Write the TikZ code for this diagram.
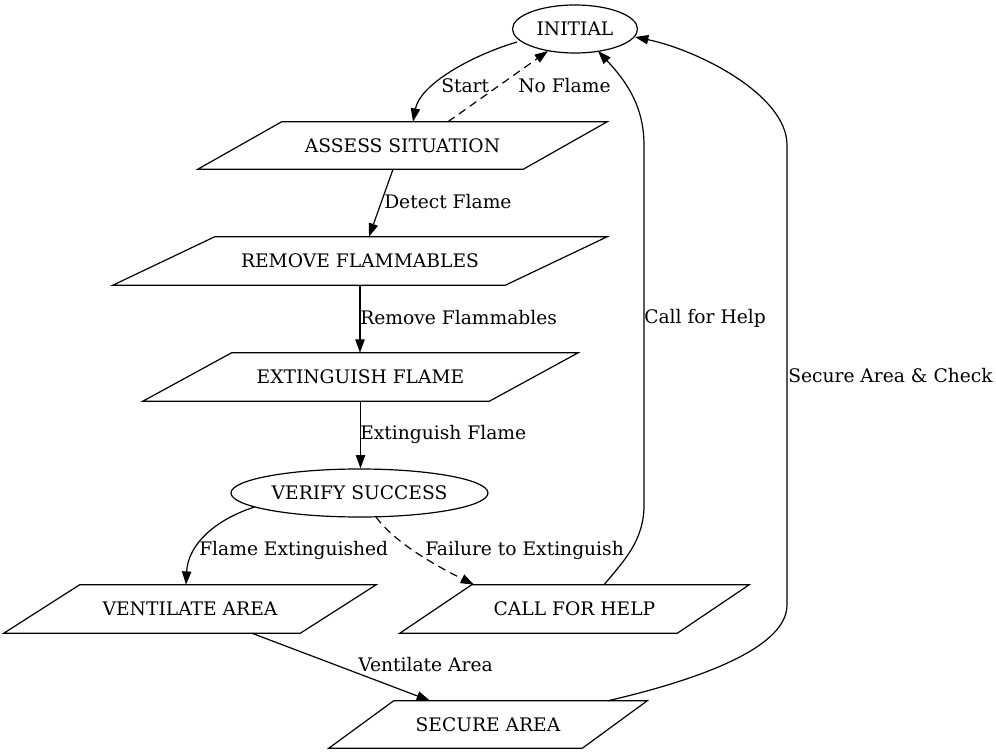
\documentclass[tikz,border=0pt]{standalone}
\usepackage{fontspec}
\setmainfont{DejaVu Serif}
\usetikzlibrary{arrows.meta,shapes.geometric}
\begin{document}
\begin{tikzpicture}[x=0.75pt,y=-0.75pt,
  font=\fontsize{14pt}{16pt}\selectfont,
  line/.style={line width=0.9pt},
  arr/.style={line, -{Triangle[length=10pt,width=7pt]}},
  dsh/.style={dash pattern=on 6pt off 4pt},
  oval/.style={ellipse, draw, line width=0.9pt, inner sep=0pt, minimum height=36pt},
  para/.style={rectangle, inner sep=0pt},
  lbl/.style={anchor=west, inner sep=0pt}]
\useasboundingbox (0,0) rectangle (996,755);

% nodes
\node[oval, minimum width=93.75pt] (initial) at (575,29) {INITIAL};
\node[para, minimum width=243.75pt, minimum height=35.25pt] (assess) at (402.5,145.5) {ASSESS SITUATION};
\node[para, minimum width=294pt, minimum height=36pt] (remove) at (360,261) {REMOVE FLAMMABLES};
\node[para, minimum width=259.5pt, minimum height=36pt] (extinguish) at (360.5,377) {EXTINGUISH FLAME};
\node[oval, minimum width=192.75pt] (verify) at (359.5,493) {VERIFY SUCCESS};
\node[para, minimum width=222pt, minimum height=36pt] (ventilate) at (190,609) {VENTILATE AREA};
\node[para, minimum width=207.75pt, minimum height=36pt] (call) at (574.5,609) {CALL FOR HELP};
\node[para, minimum width=189.75pt, minimum height=35.25pt] (secure) at (488,724.5) {SECURE AREA};

% parallelogram outlines
\foreach \n/\h in {assess/31.5, remove/38.25, extinguish/33.375, ventilate/28.5, call/27, secure/24.375}
  \draw[line] ([xshift=-\h pt]\n.south west) -- ([xshift=-\h pt]\n.south east)
    -- ([xshift=\h pt]\n.north east) -- ([xshift=\h pt]\n.north west) -- cycle;

% waypoints
\coordinate (cA) at (644,505);
\coordinate (cB) at (644,145);
\coordinate (sA) at (787,605);
\coordinate (sB) at (787,145);

% edges
\draw[arr] ([shift={(-58,13)}]initial.center) .. controls +(-47,14) and +(7,-37) .. ([shift={(10.5,0)}]assess.north);
\draw[arr, dsh] ([shift={(45.5,0)}]assess.north) -- ([shift={(-27,22)}]initial.center);
\draw[arr] ([shift={(-9.5,0)}]assess.south) -- ([shift={(9,0)}]remove.north);
\draw[arr] (remove.south) -- (remove.south |- extinguish.north);
\draw[arr] (extinguish.south) -- (extinguish.south |- verify.north);
\draw[arr] ([shift={(-105,14)}]verify.center) .. controls +(-40,13) and +(2,-40) .. ([shift={(-4,0)}]ventilate.north);
\draw[arr, dsh] ([shift={(16.5,24)}]verify.center) .. controls +(18,25) and +(-40,-20) .. ([shift={(-100.5,0)}]call.north);
\draw[arr] ([shift={(29.5,0)}]call.north) .. controls +(21,-25) and +(0,35) .. (cA) -- (cB)
  .. controls +(0,-40) and +(27,29) .. ([shift={(23,22)}]initial.center);
\draw[arr] ([shift={(62,0)}]ventilate.south) -- ([shift={(-58,0)}]secure.north);
\draw[arr] ([shift={(120,0)}]secure.north) .. controls +(82,-19) and +(0,45) .. (sA) -- (sB)
  .. controls +(0,-50) and +(63,13) .. ([shift={(60,8)}]initial.center);

% labels
\node[lbl] (lStart) at (441,86) {Start};
\node[lbl] (lNo) at (518,86) {No Flame};
\node[lbl] (lDetect) at (384,202) {Detect Flame};
\node[lbl] (lRemove) at (360,318) {Remove Flammables};
\node[lbl] (lExt) at (360,434) {Extinguish Flame};
\node[lbl] (lFlame) at (199,550) {Flame Extinguished};
\node[lbl] (lFail) at (425,550) {Failure to Extinguish};
\node[lbl] (lCall) at (644,318) {Call for Help};
\node[lbl] (lVent) at (358,665) {Ventilate Area};
\node[lbl] (lSecure) at (788,376) {Secure Area \& Check};
\end{tikzpicture}
\end{document}
